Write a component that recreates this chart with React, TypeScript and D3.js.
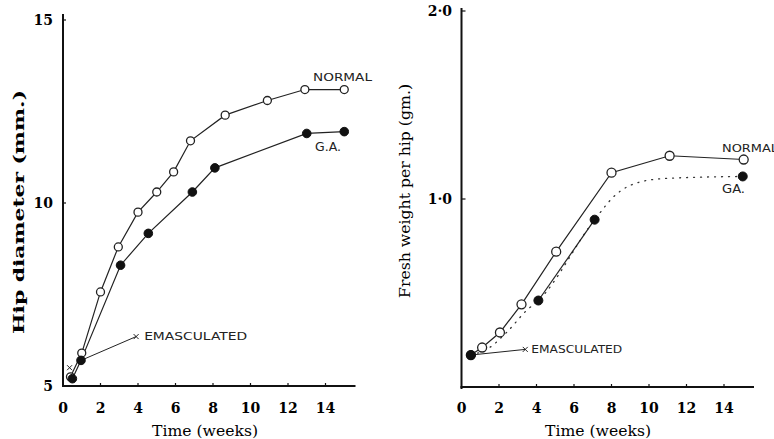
import * as d3 from 'd3';
import React from 'react';

// left panel: hip diameter (mm.)
const weeksNormalL = [0.4, 1.0, 2.0, 2.95, 4.0, 5.0, 5.9, 6.8, 8.65, 10.9, 12.9, 15.0];
const diamNormal = [5.25, 5.9, 7.57, 8.8, 9.75, 10.3, 10.85, 11.7, 12.4, 12.8, 13.1, 13.1];
const weeksGAL = [0.5, 0.96, 3.07, 4.55, 6.9, 8.1, 13.0, 15.0];
const diamGA = [5.2, 5.7, 8.3, 9.17, 10.3, 10.96, 11.9, 11.95];
const weeksEmascL = [0.96, 3.9];
const diamEmasc = [5.7, 6.35];
const weeksEmascMarkL = [0.35, 3.9];
const diamEmascMark = [5.5, 6.35];
const diamTicks = [5, 10, 15];

// right panel: fresh weight per hip (gm.)
const weeksNormalR = [0.5, 1.1, 2.05, 3.2, 5.05, 8.0, 11.1, 15.05];
const weightNormal = [0.17, 0.21, 0.29, 0.44, 0.72, 1.14, 1.23, 1.21];
const weeksGAR = [0.5, 4.1, 7.1, 15.0];
const weightGA = [0.17, 0.46, 0.89, 1.12];
const weeksGATrend = [0.5, 1.5, 2.4, 3.5, 4.1, 7.1, 8.2, 9.5, 11, 15.0];
const weightGATrend = [0.17, 0.21, 0.29, 0.41, 0.46, 0.89, 1.02, 1.09, 1.11, 1.12];
const weeksEmascR = [0.5, 3.4];
const weightEmasc = [0.17, 0.2];
const weightTicks = [1, 2];
const weightTickLabels = ['1·0', '2·0'];

const weekTicks = [0, 2, 4, 6, 8, 10, 12, 14];

const serif = '"DejaVu Serif", serif';
const sans = '"DejaVu Sans", sans-serif';

const zip = (xs: number[], ys: number[]) => xs.map((x, i) => [x, ys[i]] as [number, number]);

export default function App() {
  // scales
  const xL = d3.scaleLinear().domain([0, 15.6]).range([63, 355.5]);
  const yL = d3.scaleLinear().domain([5, 15]).range([386, 20]);
  const xR = d3.scaleLinear().domain([0, 15.6]).range([461.5, 754]);
  const yR = d3.scaleLinear().domain([0, 2]).range([387, 11]);

  const lineL = d3.line<[number, number]>().x(d => xL(d[0])).y(d => yL(d[1]));
  const lineR = d3.line<[number, number]>().x(d => xR(d[0])).y(d => yR(d[1]));
  const trendR = d3.line<[number, number]>().x(d => xR(d[0])).y(d => yR(d[1])).curve(d3.curveMonotoneX);

  const cross = (cx: number, cy: number, k: string) => (
    <path key={k} d={`M${cx - 2.5},${cy - 2.5}L${cx + 2.5},${cy + 2.5}M${cx - 2.5},${cy + 2.5}L${cx + 2.5},${cy - 2.5}`}
      stroke="#222" strokeWidth={1} />
  );

  const label = (x: number, y: number, s: string, w: number, fs = 11) => (
    <text x={x} y={y} dy="0.35em" fontFamily={sans} fontSize={fs} fill="#222"
      textLength={w} lengthAdjust="spacingAndGlyphs">{s}</text>
  );

  return (
    <svg width={774} height={439} style={{ position: 'absolute', left: 0, top: 0, background: '#fff' }}>
      {/* ---------- left panel ---------- */}
      <g>
        <line x1={xL(0)} x2={xL(0)} y1={14} y2={387} stroke="#111" strokeWidth={2} />
        <line x1={xL(0) - 1} x2={xL(15.6)} y1={yL(5)} y2={yL(5)} stroke="#111" strokeWidth={1.8} />
        {weekTicks.filter(t => t > 0).map(t => (
          <line key={t} x1={xL(t)} x2={xL(t)} y1={yL(5)} y2={yL(5) - 3} stroke="#111" strokeWidth={1.2} />
        ))}
        {diamTicks.map(t => (
          <g key={t}>
            <line x1={xL(0)} x2={xL(0) + 3} y1={yL(t)} y2={yL(t)} stroke="#111" strokeWidth={1.2} />
            <text x={53} y={yL(t)} dy="0.36em" textAnchor="end" fontFamily={serif} fontWeight="bold" fontSize={14}>{t}</text>
          </g>
        ))}
        {weekTicks.map(t => (
          <text key={t} x={xL(t)} y={413} textAnchor="middle" fontFamily={serif} fontWeight="bold" fontSize={14}>{t}</text>
        ))}
        <text x={205} y={436} textAnchor="middle" fontFamily={serif} fontSize={15} textLength={106} lengthAdjust="spacingAndGlyphs">Time (weeks)</text>
        <text transform={`translate(24,212) rotate(-90)`} textAnchor="middle" fontFamily={serif} fontWeight="bold" fontSize={15} textLength={244} lengthAdjust="spacingAndGlyphs">Hip diameter (mm.)</text>

        <path d={lineL(zip(weeksNormalL, diamNormal)) || ''} fill="none" stroke="#222" strokeWidth={1.2} />
        <path d={lineL(zip(weeksGAL, diamGA)) || ''} fill="none" stroke="#222" strokeWidth={1.2} />
        <path d={lineL(zip(weeksEmascL, diamEmasc)) || ''} fill="none" stroke="#222" strokeWidth={1} />
        {zip(weeksNormalL, diamNormal).map((d, i) => (
          <circle key={'n' + i} cx={xL(d[0])} cy={yL(d[1])} r={4} fill="#fff" stroke="#222" strokeWidth={1.3} />
        ))}
        {zip(weeksGAL, diamGA).map((d, i) => (
          <circle key={'g' + i} cx={xL(d[0])} cy={yL(d[1])} r={4.3} fill="#111" stroke="#111" strokeWidth={1} />
        ))}
        {zip(weeksEmascMarkL, diamEmascMark).map((d, i) => cross(xL(d[0]), yL(d[1]), 'e' + i))}
        {label(xL(3.9) + 8, yL(6.35), 'EMASCULATED', 103)}
        {label(313, 77, 'NORMAL', 59)}
        {label(315, 147, 'G.A.', 26, 11.5)}
      </g>

      {/* ---------- right panel ---------- */}
      <g>
        <line x1={xR(0)} x2={xR(0)} y1={8} y2={389} stroke="#111" strokeWidth={2} />
        <line x1={xR(0) - 1} x2={xR(15.6)} y1={yR(0)} y2={yR(0)} stroke="#111" strokeWidth={1.8} />
        {weekTicks.filter(t => t > 0).map(t => (
          <line key={t} x1={xR(t)} x2={xR(t)} y1={yR(0)} y2={yR(0) - 3} stroke="#111" strokeWidth={1.2} />
        ))}
        {weightTicks.map((t, i) => (
          <g key={t}>
            <line x1={xR(0)} x2={xR(0) + 4} y1={yR(t)} y2={yR(t)} stroke="#111" strokeWidth={1.2} />
            <text x={452} y={yR(t)} dy="0.36em" textAnchor="end" fontFamily={serif} fontWeight="bold" fontSize={14}>{weightTickLabels[i]}</text>
          </g>
        ))}
        {weekTicks.map(t => (
          <text key={t} x={xR(t)} y={413} textAnchor="middle" fontFamily={serif} fontWeight="bold" fontSize={14}>{t}</text>
        ))}
        <text x={598} y={436} textAnchor="middle" fontFamily={serif} fontSize={15} textLength={106} lengthAdjust="spacingAndGlyphs">Time (weeks)</text>
        <text transform={`translate(410,191) rotate(-90)`} textAnchor="middle" fontFamily={serif} fontSize={15} textLength={214} lengthAdjust="spacingAndGlyphs">Fresh weight per hip (gm.)</text>

        <path d={trendR(zip(weeksGATrend, weightGATrend)) || ''} fill="none" stroke="#333" strokeWidth={1.3} strokeDasharray="1 6" strokeLinecap="round" />
        <path d={lineR(zip(weeksNormalR, weightNormal)) || ''} fill="none" stroke="#222" strokeWidth={1.2} />
        <path d={lineR(zip(weeksGAR.slice(1, 3), weightGA.slice(1, 3))) || ''} fill="none" stroke="#222" strokeWidth={1.2} />
        <path d={lineR(zip(weeksEmascR, weightEmasc)) || ''} fill="none" stroke="#222" strokeWidth={1} />
        {zip(weeksNormalR, weightNormal).map((d, i) => (
          <circle key={'n' + i} cx={xR(d[0])} cy={yR(d[1])} r={4.5} fill="#fff" stroke="#222" strokeWidth={1.3} />
        ))}
        {zip(weeksGAR, weightGA).map((d, i) => (
          <circle key={'g' + i} cx={xR(d[0])} cy={yR(d[1])} r={4.5} fill="#111" stroke="#111" strokeWidth={1} />
        ))}
        {cross(xR(weeksEmascR[1]), yR(weightEmasc[1]), 'er')}
        {label(xR(3.4) + 6, yR(0.2), 'EMASCULATED', 91)}
        {label(722, 148, 'NORMAL', 56)}
        {label(722, 189, 'GA.', 23, 11.5)}
      </g>
    </svg>
  );
}
